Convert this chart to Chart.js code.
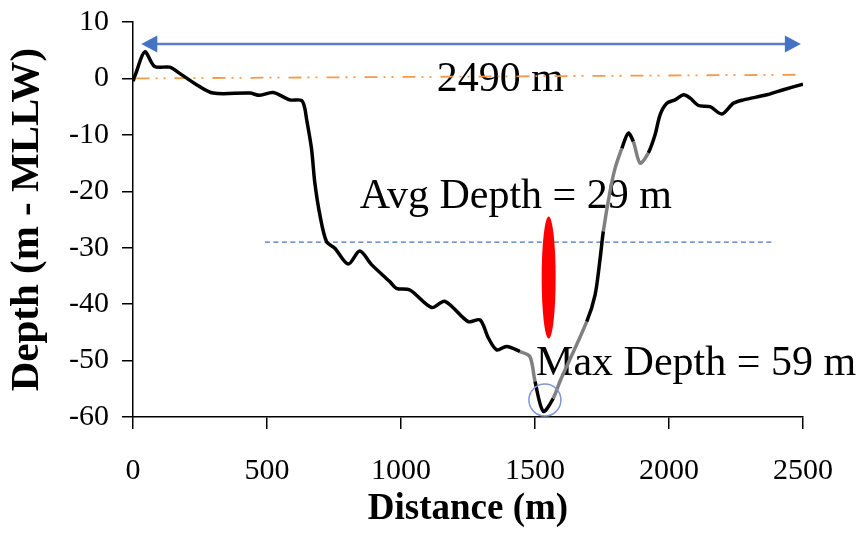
<!DOCTYPE html>
<html>
<head>
<meta charset="utf-8">
<script src="https://cdn.jsdelivr.net/npm/chart.js@4.4.1/dist/chart.umd.min.js"></script>
<style>
    body { margin: 0; background: #fff; }
    #wrap { width: 864px; height: 533px; position: relative; }
</style>
</head>
<body>
<div id="wrap"><canvas id="profileChart"></canvas></div>
<script>
// Cross-section profile (distance in m, depth in m - MLLW)
const distance = [0, 10, 44, 81, 137, 174, 237, 299, 436, 473, 523, 585, 629, 641, 647, 666, 678, 697, 722, 753,
    803, 846, 890, 958, 983, 1033, 1114, 1164, 1251, 1295, 1326, 1357, 1394, 1444, 1481, 1500, 1531, 1568, 1593, 1693,
    1724, 1743, 1755, 1780, 1799, 1824, 1848, 1867, 1892, 1923, 1948, 1967, 1992, 2023, 2054, 2079, 2110, 2153, 2197, 2240,
    2278, 2365, 2427, 2500];
const depth = [-0.5, 0.8, 4.7, 2.1, 2.0, 0.9, -1.1, -2.6, -2.6, -3.0, -2.5, -3.8, -3.9, -5.3, -7.0, -12.4, -18.3, -24.1, -28.9, -30.1,
    -32.9, -30.6, -33.0, -36.0, -37.2, -37.5, -40.6, -39.5, -43.1, -42.8, -46.0, -48.1, -47.5, -48.4, -49.3, -53.7, -59.0, -56.7, -53.7, -43.1,
    -38.4, -31.9, -27.1, -20.0, -15.9, -12.4, -9.7, -11.2, -15.0, -13.2, -10.0, -6.4, -4.4, -3.8, -2.9, -3.5, -4.8, -5.0, -6.3, -4.4,
    -3.8, -2.9, -2.0, -1.0];

// stretches of the profile drawn in grey (start, end distance)
const greyStretches = [[1418, 1500], [1568, 1693], [1755, 1824], [1867, 1923]];

// reference lines
const zeroLineX = [13, 2481];
const zeroLineY = [0, 0.65];
const avgLineX = [492, 2396];
const avgDepth = -29;

// tick labels
const xTicks = [0, 500, 1000, 1500, 2000, 2500];
const yTicks = [-60, -50, -40, -30, -20, -10, 0, 10];

// annotations, in data units
const widthArrow = { y: 6.1, from: 31, to: 2492 };
const labels = [
    { text: '2490 m', x: 1133, y: -2.3 },
    { text: 'Avg Depth = 29 m', x: 846, y: -23.0 },
    { text: 'Max Depth = 59 m', x: 1504, y: -52.5 }
];
const redMark = { x: 1551, y: -35.3 };
const maxCircle = { x: 1537, y: -57.0 };

const toPoints = (xs, ys) => xs.map((x, i) => ({ x: x, y: ys[i] }));

function isGrey(x) {
    return greyStretches.some(s => x >= s[0] && x < s[1]);
}

const SERIF = '"Liberation Serif", "Times New Roman", serif';

const annotationPlugin = {
    id: 'annotations',
    beforeDatasetsDraw(chart) {
        const { ctx, scales: { x, y } } = chart;
        ctx.save();
        ctx.fillStyle = '#000';
        ctx.font = '42px ' + SERIF;
        ctx.textAlign = 'left';
        ctx.textBaseline = 'alphabetic';
        labels.forEach(l => ctx.fillText(l.text, x.getPixelForValue(l.x), y.getPixelForValue(l.y)));
        ctx.restore();
    },
    afterDatasetsDraw(chart) {
        const { ctx, scales: { x, y } } = chart;
        ctx.save();

        // double arrow showing the width
        const ay = y.getPixelForValue(widthArrow.y);
        const x1 = x.getPixelForValue(widthArrow.from);
        const x2 = x.getPixelForValue(widthArrow.to);
        ctx.strokeStyle = '#5b7bc6';
        ctx.lineWidth = 2.5;
        ctx.beginPath();
        ctx.moveTo(x1 + 10, ay);
        ctx.lineTo(x2 - 10, ay);
        ctx.stroke();
        ctx.fillStyle = '#4472c4';
        ctx.beginPath();
        ctx.moveTo(x1, ay);
        ctx.lineTo(x1 + 16, ay - 8.5);
        ctx.lineTo(x1 + 16, ay + 8.5);
        ctx.closePath();
        ctx.fill();
        ctx.beginPath();
        ctx.moveTo(x2, ay);
        ctx.lineTo(x2 - 16, ay - 8.5);
        ctx.lineTo(x2 - 16, ay + 8.5);
        ctx.closePath();
        ctx.fill();

        // red mark
        ctx.fillStyle = '#ff0000';
        ctx.beginPath();
        ctx.ellipse(x.getPixelForValue(redMark.x), y.getPixelForValue(redMark.y), 7, 61, 0, 0, Math.PI * 2);
        ctx.fill();

        // circle round the deepest point
        ctx.strokeStyle = '#7f96d4';
        ctx.lineWidth = 1.5;
        ctx.beginPath();
        ctx.arc(x.getPixelForValue(maxCircle.x), y.getPixelForValue(maxCircle.y), 16, 0, Math.PI * 2);
        ctx.stroke();

        ctx.restore();
    }
};

new Chart(document.getElementById('profileChart'), {
    type: 'line',
    data: {
        datasets: [{
            label: 'Zero',
            data: toPoints(zeroLineX, zeroLineY),
            borderColor: '#f59a4a',
            borderWidth: 1.8,
            borderDash: [13, 6, 2, 6, 2, 9],
            pointRadius: 0,
            order: 2
        }, {
            label: 'Average depth',
            data: toPoints(avgLineX, [avgDepth, avgDepth]),
            borderColor: '#4472c4',
            borderWidth: 1.2,
            borderDash: [5, 3.5],
            pointRadius: 0,
            order: 3
        }, {
            label: 'Profile',
            data: toPoints(distance, depth),
            borderColor: '#000',
            borderWidth: 3.5,
            pointRadius: 0,
            tension: 0.3,
            segment: {
                borderColor: c => isGrey(c.p0.parsed.x) ? '#808080' : '#000'
            },
            order: 1
        }]
    },
    options: {
        responsive: true,
        maintainAspectRatio: false,
        animation: false,
        layout: { padding: { left: 0, top: 22, right: 61, bottom: 0 } },
        plugins: {
            legend: { display: false },
            tooltip: { enabled: false }
        },
        scales: {
            x: {
                type: 'linear',
                min: 0,
                max: 2500,
                afterFit: s => { s.height = 116; },
                afterBuildTicks: s => { s.ticks = xTicks.map(v => ({ value: v })); },
                border: { display: true, color: '#000', width: 1.5 },
                grid: { display: true, drawOnChartArea: false, drawTicks: true, tickLength: 12, color: '#000', lineWidth: 1.5 },
                ticks: { color: '#000', padding: 24, maxRotation: 0, font: { family: SERIF, size: 30 }, callback: v => String(v) },
                title: {
                    display: true,
                    text: 'Distance (m)',
                    color: '#000',
                    padding: { top: 0, bottom: 1 },
                    font: { family: SERIF, size: 37, weight: 'bold' }
                }
            },
            y: {
                min: -60,
                max: 10,
                afterFit: s => { s.width = 133; s.paddingTop = 0; },
                afterBuildTicks: s => { s.ticks = yTicks.map(v => ({ value: v })); },
                border: { display: true, color: '#000', width: 1.5 },
                grid: { display: true, drawOnChartArea: false, drawTicks: true, tickLength: 11, color: '#000', lineWidth: 1.5 },
                ticks: { color: '#000', padding: 13, font: { family: SERIF, size: 30 }, callback: v => String(v) },
                title: {
                    display: true,
                    text: 'Depth (m - MLLW)',
                    color: '#000',
                    padding: { top: 3, bottom: 0 },
                    font: { family: SERIF, size: 41, weight: 'bold' }
                }
            }
        }
    },
    plugins: [annotationPlugin]
});
</script>
</body>
</html>
